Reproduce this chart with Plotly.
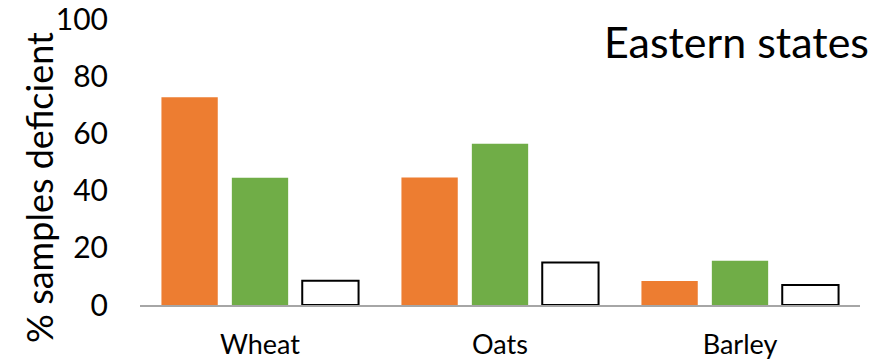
import plotly.graph_objects as go

# Share of samples found deficient, by crop, for the eastern states
crops = ["Wheat", "Oats", "Barley"]
series_orange = [72.6, 44.6, 8.4]
series_green = [44.5, 56.4, 15.5]
series_white = [8.5, 14.9, 7.0]

y_ticks = [0, 20, 40, 60, 80, 100]

FONT = "Lato, Carlito, Calibri, sans-serif"

fig = go.Figure()
fig.add_trace(go.Bar(x=crops, y=series_orange, marker=dict(color="#ED7D31", line=dict(width=0))))
fig.add_trace(go.Bar(x=crops, y=series_green, marker=dict(color="#70AD47", line=dict(width=0))))
fig.add_trace(go.Bar(x=crops, y=series_white, marker=dict(color="white", line=dict(color="black", width=2))))

fig.update_layout(
    width=889,
    height=363,
    margin=dict(l=140, r=29, t=19, b=58),
    paper_bgcolor="white",
    plot_bgcolor="white",
    showlegend=False,
    barmode="group",
    bargap=0.12,
    bargroupgap=0.2,
    font=dict(family=FONT, color="black"),
    xaxis=dict(
        automargin=False,
        showline=True,
        linecolor="#A6A6A6",
        linewidth=1.5,
        showgrid=False,
        ticks="",
        tickfont=dict(size=27, family=FONT),
        ticklabelstandoff=15,
        ticklabeloverflow="allow",
        zeroline=False,
    ),
    yaxis=dict(
        automargin=False,
        range=[0, 100],
        tickvals=y_ticks,
        showgrid=False,
        showline=False,
        zeroline=False,
        ticks="",
        tickfont=dict(size=30, family=FONT),
        ticklabelstandoff=31,
        ticklabeloverflow="allow",
    ),
    annotations=[
        dict(
            text="% samples deficient",
            textangle=-90,
            xref="paper", yref="paper",
            x=-0.14, y=0.41,
            xanchor="center", yanchor="middle",
            showarrow=False,
            font=dict(size=36, family=FONT),
        ),
        dict(
            text="Eastern states",
            xref="paper", yref="paper",
            x=1.015, y=0.92,
            xanchor="right", yanchor="middle",
            showarrow=False,
            font=dict(size=43, family=FONT),
        ),
    ],
)

fig.write_html("out.html")
